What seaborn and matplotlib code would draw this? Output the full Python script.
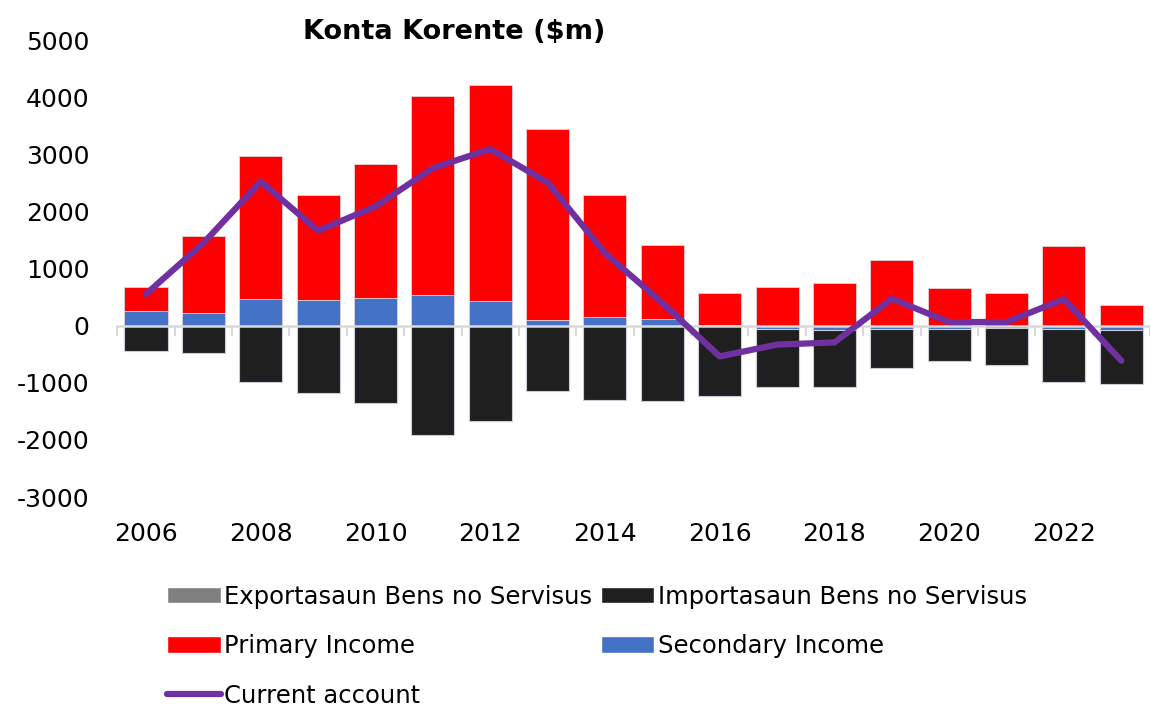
import numpy as np
import pandas as pd
import matplotlib
matplotlib.use("Agg")
import matplotlib.pyplot as plt
import seaborn as sns
from matplotlib.patches import Patch
from matplotlib.lines import Line2D

# === DATA ($m) ===
years = list(range(2006, 2024))
exports = [0, 0, 0, 0, 0, 0, 0, 0, 0, 0, 0, 0, 0, 0, 0, 0, 0, 0]
imports = [-438, -473, -986, -1180, -1349, -1915, -1675, -1150, -1300, -1325,
           -1225, -1020, -995, -682, -570, -650, -920, -958]
primary_income = [421, 1336, 2498, 1844, 2354, 3492, 3794, 3345, 2148, 1301,
                  566, 671, 747, 1156, 665, 578, 1396, 368]
secondary_income = [250, 228, 467, 450, 478, 531, 426, 105, 146, 117,
                    5, -60, -75, -60, -50, -40, -60, -70]
current_account = [555, 1448, 2527, 1664, 2090, 2762, 3094, 2510, 1273, 400,
                   -537, -330, -292, 473, 65, 65, 467, -613]

labels = ["Exportasaun Bens no Servisus", "Importasaun Bens no Servisus",
          "Primary Income", "Secondary Income", "Current account"]
colors = {"exp": "#808080", "imp": "#1F1F1F", "prim": "#FF0000",
          "sec": "#4472C4", "ca": "#7030A0"}

sns.set_theme(style="white")
plt.rcParams["font.family"] = ["DejaVu Sans"]
plt.rcParams["axes.unicode_minus"] = False
plt.rcParams["text.color"] = "black"

df = pd.DataFrame({"year": years, "exp": exports, "imp": imports,
                   "prim": primary_income, "sec": secondary_income,
                   "ca": current_account})
df["pos"] = np.arange(len(df))

# stacking bases: positives and negatives stacked separately
sec = df["sec"].to_numpy(float)
sec_pos = np.clip(sec, 0, None)
sec_neg = np.clip(sec, None, 0)

fig = plt.figure(figsize=(11.5, 7.07), dpi=100)
ax = fig.add_axes([0.102, 0.297, 0.898, 0.646])

bw = 0.75
edge = dict(edgecolor="#E3D0D8", linewidth=0.6)
sns.barplot(data=df, x="year", y="exp", color=colors["exp"], width=bw,
            saturation=1, ax=ax, **edge)
sns.barplot(data=df, x="year", y="sec", color=colors["sec"], width=bw,
            saturation=1, ax=ax, **edge)
sns.barplot(data=df, x="year", y="prim", bottom=sec_pos, color=colors["prim"],
            width=bw, saturation=1, ax=ax, **edge)
sns.barplot(data=df, x="year", y="imp", bottom=sec_neg, color=colors["imp"],
            width=bw, saturation=1, ax=ax, edgecolor="#C8CCD6", linewidth=0.8)
sns.lineplot(data=df, x="pos", y="ca", color=colors["ca"], linewidth=4.5,
             ax=ax, solid_capstyle="round", solid_joinstyle="round", zorder=5)

ax.set_xlim(-0.5, len(years) - 0.5)
ax.set_ylim(-3000, 5000)
ax.set_yticks(range(-3000, 5001, 1000))
ax.set_xticks(range(0, len(years), 2))
ax.set_xticklabels([str(y) for y in years[::2]])
ax.tick_params(axis="y", labelsize=18, length=0, pad=20, labelcolor="black")
ax.tick_params(axis="x", labelsize=18, length=0, pad=18, labelcolor="black")
ax.set_xlabel("")
ax.set_ylabel("")
for s in ax.spines.values():
    s.set_visible(False)

# category axis drawn at zero with boundary ticks
zero_frac = 3000 / 8000
sec_ax = ax.secondary_xaxis(zero_frac)
sec_ax.spines["bottom"].set_color("#D9D9D9")
sec_ax.spines["bottom"].set_linewidth(1.8)
sec_ax.set_xticks(np.arange(-0.5, len(years), 1.0))
sec_ax.tick_params(length=7, width=1.5, color="#D9D9D9", labelbottom=False,
                   direction="out")
sec_ax.set_zorder(1)

fig.text(0.395, 0.955, "Konta Korente ($m)", fontsize=19.5, fontweight="bold",
         ha="center", va="center", color="black")

handles = [
    Patch(facecolor=colors["exp"]),
    Patch(facecolor=colors["prim"]),
    Line2D([0], [0], color=colors["ca"], linewidth=4.5),
    Patch(facecolor=colors["imp"]),
    Patch(facecolor=colors["sec"]),
]
order = [labels[0], labels[2], labels[4], labels[1], labels[3]]
leg = fig.legend(handles, order, ncol=2, loc="upper left",
                 bbox_to_anchor=(0.137, 0.187), frameon=False, fontsize=17.5,
                 handlelength=2.2, handleheight=0.65, handletextpad=0.15,
                 columnspacing=0.35, labelspacing=1.05, borderaxespad=0)
for t in leg.get_texts():
    t.set_color("black")

fig.savefig("out.png", dpi=100)
